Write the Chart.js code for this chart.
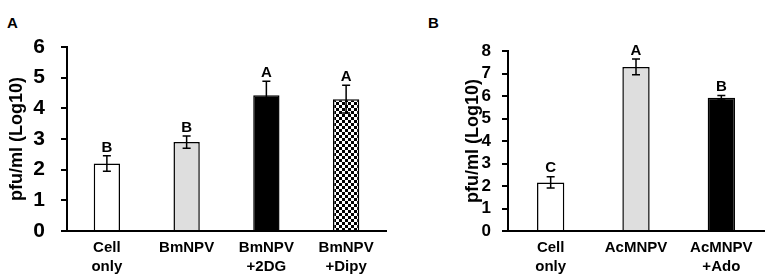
<!DOCTYPE html>
<html>
<head>
<meta charset="utf-8">
<script src="https://cdn.jsdelivr.net/npm/chart.js@4.4.1/dist/chart.umd.min.js"></script>
<style>
  html, body { margin: 0; padding: 0; background: #fff; }
  body { width: 765px; height: 278px; position: relative; overflow: hidden; font-family: "Liberation Sans", Arial, sans-serif; }
  #wa { position: absolute; left: 0; top: 0; width: 395px; height: 278px; }
  #wb { position: absolute; left: 390px; top: 0; width: 375px; height: 278px; }
  .panel { position: absolute; font-weight: bold; font-size: 15px; color: #000; }
</style>
</head>
<body>
<div class="panel" style="left:7px;top:14px;">A</div>
<div class="panel" style="left:428px;top:14px;">B</div>
<div id="wa"><canvas id="ca"></canvas></div>
<div id="wb"><canvas id="cb"></canvas></div>
<script>
// ---- data ----
const catsA = [["Cell", "only"], "BmNPV", ["BmNPV", "+2DG"], ["BmNPV", "+Dipy"]];
const valsA = [2.2, 2.9, 4.43, 4.3];
const errA = [0.25, 0.2, 0.45, 0.45];
const letA = ["B", "B", "A", "A"];
const ticksA = [0, 1, 2, 3, 4, 5, 6];

const catsB = [["Cell", "only"], "AcMNPV", ["AcMNPV", "+Ado"]];
const valsB = [2.16, 7.29, 5.92];
const errB = [0.25, 0.35, 0.1];
const letB = ["C", "A", "B"];
const ticksB = [0, 1, 2, 3, 4, 5, 6, 7, 8];

const FONT = "'Liberation Sans', Arial, sans-serif";

function checker() {
  const c = document.createElement('canvas');
  c.width = 6; c.height = 6;
  const g = c.getContext('2d');
  g.fillStyle = '#fff'; g.fillRect(0, 0, 6, 6);
  g.fillStyle = '#000'; g.fillRect(0, 0, 3, 3); g.fillRect(3, 3, 3, 3);
  return g.createPattern(c, 'repeat');
}

const errPlugin = {
  id: 'errPlugin',
  afterDatasetsDraw(chart, args, opts) {
    const ctx = chart.ctx;
    const meta = chart.getDatasetMeta(0);
    const ys = chart.scales.y;
    ctx.save();
    meta.data.forEach((bar, i) => {
      const v = opts.vals[i], e = opts.errs[i];
      const x = bar.x;
      const yt = ys.getPixelForValue(v + e);
      const yb = ys.getPixelForValue(v - e);
      ctx.strokeStyle = '#000';
      ctx.lineWidth = 1.5;
      ctx.beginPath();
      ctx.moveTo(x, yt); ctx.lineTo(x, yb);
      ctx.moveTo(x - 4, yt); ctx.lineTo(x + 4, yt);
      ctx.moveTo(x - 4, yb); ctx.lineTo(x + 4, yb);
      ctx.stroke();
      ctx.fillStyle = '#000';
      ctx.font = 'bold 15px ' + FONT;
      ctx.textAlign = 'center';
      ctx.textBaseline = 'bottom';
      ctx.fillText(opts.letters[i], x, yt - 1);
    });
    ctx.restore();
  }
};

function makeChart(id, cats, vals, errs, letters, ticks, fills, cfg) {
  return new Chart(document.getElementById(id), {
    type: 'bar',
    data: {
      labels: cats,
      datasets: [{
        data: vals,
        backgroundColor: fills,
        borderColor: '#000',
        borderWidth: 1.5,
        borderSkipped: 'bottom',
        barPercentage: cfg.barPct,
        categoryPercentage: 1
      }]
    },
    options: {
      responsive: true,
      maintainAspectRatio: false,
      animation: false,
      events: [],
      layout: { padding: cfg.padding },
      plugins: {
        legend: { display: false },
        tooltip: { enabled: false },
        errPlugin: { vals: vals, errs: errs, letters: letters }
      },
      scales: {
        x: {
          grid: { display: false, drawTicks: false },
          border: { display: true, color: '#000', width: 2 },
          ticks: {
            color: '#000',
            font: { family: FONT, size: 15, weight: 'bold', lineHeight: 1.3 },
            padding: 7,
            maxRotation: 0,
            autoSkip: false
          },
          afterFit(s) { s.height = cfg.xHeight; }
        },
        y: {
          min: 0,
          max: ticks[ticks.length - 1],
          afterBuildTicks(s) { s.ticks = ticks.map(v => ({ value: v })); },
          grid: { display: true, drawOnChartArea: false, drawTicks: true, tickLength: 6, color: '#000', lineWidth: 2 },
          border: { display: true, color: '#000', width: 2 },
          ticks: {
            color: '#000',
            autoSkip: false,
            font: { family: FONT, size: cfg.tickSize, weight: 'bold' },
            padding: cfg.tickPad
          },
          title: {
            display: true,
            text: 'pfu/ml (Log10)',
            color: '#000',
            font: { family: FONT, size: 18, weight: 'bold' },
            padding: { top: cfg.titlePad, bottom: 0 }
          },
          afterFit(s) { s.width = cfg.yWidth; }
        }
      }
    },
    plugins: [errPlugin]
  });
}

makeChart('ca', catsA, valsA, errA, letA, ticksA,
  ['#ffffff', '#dedede', '#000000', checker()],
  { barPct: 0.33, padding: { top: 47, right: 9, bottom: 0, left: 0 }, xHeight: 47, yWidth: 67, tickSize: 21, tickPad: 16, titlePad: 6 });

makeChart('cb', catsB, valsB, errB, letB, ticksB,
  ['#ffffff', '#dedede', '#000000'],
  { barPct: 0.32, padding: { top: 51, right: 1, bottom: 0, left: 0 }, xHeight: 47, yWidth: 118, tickSize: 17, tickPad: 11, titlePad: 72 });
</script>
</body>
</html>
